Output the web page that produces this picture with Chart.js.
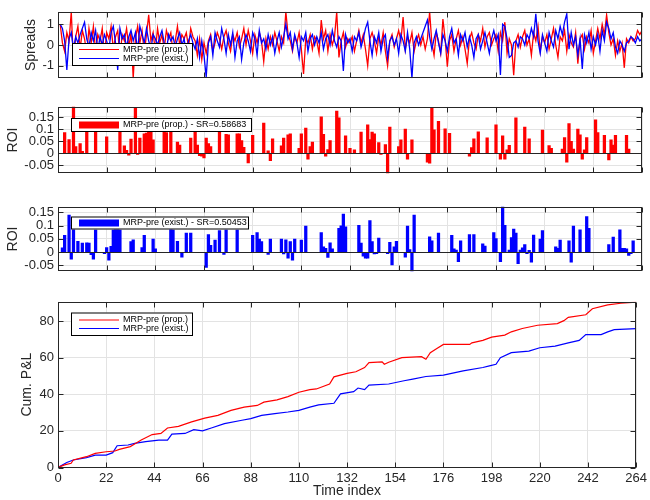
<!DOCTYPE html>
<html>
<head>
<meta charset="utf-8">
<script src="https://cdn.jsdelivr.net/npm/chart.js@4.4.0/dist/chart.umd.min.js"></script>
<style>
  body { margin: 0; background: #fff; width: 650px; height: 500px; position: relative; overflow: hidden; }
  canvas { position: absolute; left: 0; }
</style>
</head>
<body>
<canvas id="spreads" width="650" height="90" style="top:0px"></canvas>
<canvas id="roiProp" width="650" height="90" style="top:95px"></canvas>
<canvas id="roiExist" width="650" height="88" style="top:195px"></canvas>
<canvas id="pnl" width="650" height="210" style="top:290px"></canvas>
<script>
// ---- data ----
const xTicks = [0, 22, 44, 66, 88, 110, 132, 154, 176, 198, 220, 242, 264];
const spreadTicks = [-1, 0, 1];
const roiTicks = [-0.05, 0, 0.05, 0.1, 0.15];
const pnlTicks = [0, 20, 40, 60, 80];

// spreads, time index 1..264
const spreadProp = [
  1.0, 0.1, -0.3, 0.6, 0.2, 1.6, -0.9, 0.4, 0.9, -0.2, 0.7, 0.3, -0.4, 0.8, 0.1, 0.9, -0.3, 0.5, 0.2, 0.8, -0.5, 0.6,
  0.3, 0.9, -0.2, 0.4, 0.7, -0.6, 0.5, 0.2, 0.8, -0.1, 0.6, -1.6, 0.3, 0.9, 0.1, 0.7, -0.4, 0.5, 1.45, 0.2, 0.6, -0.3,
  0.8, 0.1, 0.5, -0.2, 0.7, 0.3, 0.6, -0.4, 0.2, 0.9, 0.0, 0.5, 0.3, 0.6, -0.1, 0.8, 0.4, 0.2, -0.5, 0.3, -0.7, 0.1,
  -0.4, 0.2, 0.5, -0.3, 0.1, 0.6, 0.3, -0.2, 0.4, 0.7, 0.1, -0.3, 0.5, 0.2, 0.6, -0.1, 0.3, 0.8, 0.0, 0.7, 0.2, -0.4,
  0.5, 0.1, 0.6, 0.2, -0.8, 0.3, -0.2, 0.4, 0.0, 0.6, 0.2, -0.3, 0.4, 0.1, 1.6, 0.5, 0.2, -0.3, 0.4, 0.1, 0.6, -0.2,
  -1.4, 0.3, 0.1, 0.5, -0.2, 0.4, 0.2, -0.4, 1.2, 0.3, 0.7, -0.3, 0.5, 0.0, 0.4, 1.6, -0.6, 0.2, 0.6, -0.1, 0.3, 0.1,
  0.4, -0.3, 0.2, 0.7, 0.1, 0.5, -0.2, -1.0, 0.3, 0.6, 0.2, -0.4, 0.4, 0.0, 0.6, -0.3, -1.0, 0.2, 0.5, -0.1, 0.3, 0.7,
  0.2, 1.35, -0.2, 0.4, 0.1, 0.6, -0.3, 0.2, 0.5, 0.0, 0.4, -0.2, 0.3, 1.6, 0.1, -0.5, 0.6, 0.2, -0.4, 1.25, 0.3, -1.05,
  0.2, 0.5, -0.3, 0.3, 0.7, 0.0, 0.4, -0.2, -0.9, 0.3, 0.6, 0.1, -0.2, 0.5, 0.2, 0.8, -0.1, 0.4, 0.6, 0.0, 0.3, 0.5,
  -0.3, 0.6, 0.2, 1.1, -0.4, 0.3, 0.0, -1.45, 0.2, 0.5, -0.1, 0.4, 0.7, 0.0, 0.3, -0.5, 0.6, 0.2, 0.9, -0.3, 0.4, 0.1,
  0.5, -0.2, 0.3, 0.8, 0.0, -0.6, 0.4, 0.2, 0.7, -0.3, 0.5, 0.1, -0.1, 0.6, -0.9, 0.3, 0.5, -0.2, 0.4, 0.1, 0.7, -0.4,
  0.2, 0.8, 0.3, 1.0, 0.5, 1.45, 0.6, 0.0, 0.3, -0.5, 0.2, -0.3, 0.1, -1.1, 0.3, 0.1, 0.4, 0.2, 0.3, 0.7, 0.5, 0.7
];
const spreadExist = [
  1.0, 0.8, 0.2, -1.2, 0.3, 0.6, -0.2, 0.4, 0.1, 0.5, 0.8, 1.1, 0.3, -0.1, 0.6, 0.2, 0.7, -0.3, 0.4, 0.0, 0.5, 0.2,
  -0.2, 0.6, 0.9, 0.1, -1.2, 0.8, 0.3, 0.5, -0.1, 0.4, 0.7, 0.2, 0.6, -0.3, 0.9, 0.5, 0.1, 0.8, 0.2, -0.2, 0.5, 0.3,
  0.0, 0.4, 0.7, 0.1, -0.3, 0.5, 0.2, 0.4, -0.1, 0.3, 0.6, 0.0, 0.3, -0.4, 0.2, 0.5, 0.1, -0.2, 0.3, -0.6, 0.2, -0.5,
  -1.55, 0.1, 0.4, -0.5, 0.6, 0.2, -0.1, 0.8, 0.3, -0.4, 0.5, 0.0, 0.6, -0.6, 0.2, 0.4, -0.7, 0.1, 0.5, 0.2, -0.3, 0.6,
  0.3, -0.5, 0.7, 0.1, 0.3, -0.2, 0.5, 0.0, 0.4, -0.4, 0.2, 0.6, -0.1, 0.4, 1.0, 0.3, 0.6, -0.2, 0.5, 0.1, -0.6, 0.4,
  0.2, 0.6, -0.3, 0.3, 0.5, 0.0, 0.4, 0.1, 0.6, -0.2, 0.3, 0.5, 0.0, 0.7, 0.2, -0.1, 0.4, 0.2, -1.25, 0.5, 0.1, 0.3,
  -0.3, 0.4, 0.2, 0.6, -0.1, 0.3, 0.8, 1.1, 0.2, -0.5, 0.4, 0.1, 0.6, -0.3, 0.3, 0.5, -0.6, 0.2, 0.4, 0.0, 0.3, -0.4,
  0.5, 0.2, -0.3, 0.6, -0.2, -1.6, 0.1, 0.4, 0.0, 0.3, 0.6, 0.9, 1.2, 0.4, -0.2, 0.3, 0.7, 0.1, -0.4, 0.5, 0.2, -0.3,
  0.4, 0.8, 0.1, 0.3, -0.5, 0.5, 0.2, 0.6, -0.1, 0.4, 0.0, -0.6, 0.3, 0.5, -0.2, 0.2, 0.6, 0.1, -0.4, 0.3, 0.7, 0.2,
  0.5, -1.45, 1.0, 0.9, 0.3, -0.6, -0.5, 0.1, 0.2, -0.1, 0.4, 0.3, 0.0, 0.5, 0.3, 0.8, 0.4, 1.5, 0.2, -0.4, 0.5, 0.1,
  -0.3, 0.6, 0.2, -0.1, 0.7, 0.3, 0.9, 0.5, 1.1, 1.5, -0.2, 0.6, 0.0, 0.4, -0.5, 0.3, -1.15, 0.5, 0.1, 0.6, -0.2, 0.4,
  0.0, 0.5, -0.3, 0.7, 0.2, 1.1, 0.8, 0.3, 0.6, -0.1, -0.4, 0.2, 0.0, -0.3, 0.1, 0.2, 0.4, 0.3, 0.1, 0.4, 0.2, 0.3
];

// ROI bars: time index and value (indices without a bar are zero)
const roiPropT = [3, 5, 7, 8, 10, 11, 13, 17, 22, 28, 30, 31, 32, 33, 35, 36, 37, 39, 40, 41, 42, 43, 48, 49, 51, 54, 55,
  60, 62, 63, 64, 65, 66, 67, 68, 69, 73, 76, 77, 81, 82, 83, 84, 86, 88, 93, 95, 96, 97, 101, 102, 104, 105, 109, 110,
  112, 113, 114, 115, 119, 120, 121, 122, 123, 126, 127, 130, 132, 134, 137, 140, 141, 142, 143, 145, 146, 148, 149, 150,
  154, 155, 157, 158, 160, 167, 168, 169, 170, 172, 175, 177, 186, 187, 188, 190, 194, 198, 200, 201, 202, 203, 204, 207,
  211, 213, 219, 222, 223, 228, 229, 230, 231, 232, 233, 235, 236, 237, 238, 239, 243, 244, 247, 249, 250, 251, 252, 257, 258];
const roiPropV = [0.085, 0.056, 0.2, 0.027, 0.04, 0.008, 0.087, 0.09, 0.068, 0.09, 0.03, 0.012, -0.008, 0.058, 0.187, -0.005,
  0.062, 0.08, 0.083, 0.104, 0.09, 0.055, 0.09, 0.085, 0.087, 0.046, 0.033,
  0.062, 0.104, 0.033, -0.01, -0.012, -0.02, 0.062, 0.04, 0.027, 0.09, 0.078, 0.076, 0.08, 0.08, 0.052, 0.024, -0.04, 0.074,
  0.125, 0.01, -0.031, 0.059, 0.03, 0.062, 0.076, 0.08, 0.02, 0.08,
  0.104, -0.025, 0.027, 0.046, 0.15, 0.078, -0.012, 0.015, 0.052, 0.174, 0.146, 0.072, 0.02, 0.014, 0.087, 0.117, 0.056,
  0.087, 0.08, 0.044, -0.005, 0.036, -0.085, 0.108,
  0.027, 0.055, 0.1, -0.025, 0.055, -0.037, -0.041, 0.187, 0.097, 0.132, 0.101, 0.082, -0.012, 0.023, 0.059, 0.088, 0.064,
  0.117, -0.025, 0.072, -0.025, 0.014, 0.032, 0.146,
  0.108, 0.059, 0.096, 0.031, 0.02, 0.017, 0.065, -0.037, 0.123, 0.049, 0.017, 0.1, 0.076, -0.025, 0.014, 0.065, 0.138,
  0.085, 0.074, -0.028, 0.055, 0.033, 0.074, 0.074, 0.017];

const roiExistT = [2, 3, 5, 6, 7, 9, 11, 13, 14, 15, 16, 17, 21, 22, 23, 24, 25, 26, 27, 28, 33, 34, 38, 39, 43, 44, 51, 52,
  54, 56, 58, 60, 67, 68, 69, 71, 73, 75, 76, 81, 88, 90, 91, 92, 95, 96, 101, 102, 103, 104, 105, 106, 107, 110, 112,
  119, 120, 121, 122, 123, 124, 127, 128, 129, 130, 136, 137, 138, 139, 140, 141, 142, 143, 144, 145, 149, 150, 151, 152,
  153, 157, 158, 159, 160, 161, 168, 169, 172, 178, 179, 180, 181, 182, 186, 188, 192, 193, 197, 198, 200, 201, 202, 204,
  205, 206, 207, 208, 209, 210, 211, 212, 213, 214, 215, 218, 219, 225, 226, 227, 231, 232, 233, 236, 239, 240, 249, 251,
  254, 255, 256, 257, 258, 259, 260];
const roiExistV = [0.016, 0.063, 0.14, -0.027, 0.09, 0.041, 0.034, 0.035, 0.034, -0.01, -0.027, 0.084, -0.006, 0.017, -0.03,
  0.022, 0.084, 0.095, 0.128, 0.084, 0.04, 0.046, 0.017, 0.063, 0.049, 0.012, 0.124, 0.084,
  0.041, -0.019, 0.072, 0.072, -0.058, 0.066, 0.026, 0.045, 0.081, -0.009, 0.084, 0.084, 0.063, 0.074, 0.049, 0.04, -0.009,
  0.049, 0.049, -0.007, 0.046, -0.023, 0.04, -0.03, 0.049, 0.045, 0.098,
  0.074, 0.02, 0.014, -0.02, 0.035, 0.012, 0.09, 0.099, 0.144, 0.095, 0.101, 0.034, -0.015, -0.023, -0.023, 0.119, 0.04,
  -0.007, -0.006, 0.053, -0.006, 0.037, -0.048, 0.02,
  0.041, -0.019, 0.098, 0.01, -0.085, 0.14, 0.058, 0.043, 0.072, 0.063, 0.012, 0.008, -0.036, 0.043, 0.066, 0.066, 0.031,
  0.023, 0.074, 0.051, -0.036, 0.175, 0.101, 0.008,
  0.055, 0.087, 0.072, -0.044, 0.008, 0.016, 0.028, -0.006, 0.007, -0.038, 0.064, 0.049, 0.081, 0.02, 0.014, 0.045, 0.043,
  -0.038, 0.098, 0.084, 0.134, 0.09, 0.028, 0.057,
  0.084, 0.014, 0.014, 0.012, -0.012, -0.006, 0.043];

// cumulative P&L, sampled at the corners of the curves
const pnlPropT = [0, 3, 6, 7, 13, 17, 22, 26, 28, 33, 35, 38, 43, 47, 50, 55, 61, 67, 73, 79, 85, 91, 94, 100, 105, 110, 115,
  118, 124, 126, 132, 136, 140, 142, 148, 149, 151, 157, 166, 168, 170, 173, 176, 188, 189, 194, 198, 204, 207, 212, 219,
  228, 231, 233, 241, 244, 251, 257, 264];
const pnlPropV = [0, 1.4, 2.3, 4.1, 5.9, 7.7, 8.6, 9, 9.9, 11.4, 12.8, 15, 18, 18.6, 21.6, 22.5, 24.9, 27, 28.5, 31.2, 33,
  33.9, 35.7, 36.9, 38.7, 41.1, 42.5, 42.9, 45.6, 49.5, 51.4, 52.3, 54.6, 57.3, 57.7, 56.4, 57.5, 60, 60.5, 59.1, 62.7, 65,
  67.2, 67.2, 68.1, 69.4, 71.2, 72.3, 74.1, 75.9, 77.7, 78.6, 80.2, 82, 83.4, 86.7, 88.8, 89.7, 90.3];
const pnlExistT = [0, 4, 7, 13, 17, 22, 25, 27, 32, 35, 40, 46, 50, 52, 58, 62, 66, 70, 76, 84, 88, 93, 99, 105, 110, 115,
  119, 126, 129, 135, 137, 140, 142, 151, 158, 162, 168, 176, 185, 194, 197, 200, 202, 207, 215, 220, 227, 233, 238, 241,
  248, 251, 254, 264];
const pnlExistV = [0, 2.7, 4.1, 5.4, 6.8, 6.8, 8.1, 11.9, 12.3, 13.2, 14.1, 15, 15, 18.2, 18.6, 20.7, 20, 21.6, 24, 25.8,
  26.7, 28.5, 29.4, 30.3, 31.2, 33, 34.2, 35.1, 40.2, 41.4, 43.4, 42.5, 45, 45.6, 47.4, 48.3, 49.7, 50.5, 52.8, 54.6, 55.5,
  56.4, 60, 62.7, 63.6, 65.4, 66.3, 68.1, 69.4, 72.6, 72.6, 74.1, 75.3, 75.9];

const RED = '#ff0000';
const BLUE = '#0000ff';
const INK = '#262626';
const GRID = '#e3e3e3';
const FONT = '"Liberation Sans", Arial, Helvetica, sans-serif';

function getById(id) {
    return document.getElementById(id);
}

function toPoints(xs, ys) {
    return xs.map((x, i) => ({ x: x, y: ys[i] }));
}

function indexPoints(ys) {
    return ys.map((y, i) => ({ x: i + 1, y: y }));
}

// matlab-like box, inward ticks on all sides, bar baseline and legend
const axesBox = {
    id: 'axesBox',
    afterDatasetsDraw(chart, args, opts) {
        const { ctx, chartArea: a } = chart;
        const xs = chart.scales.x;
        const ys = chart.scales.y;
        ctx.save();
        ctx.strokeStyle = INK;
        ctx.lineWidth = 1;
        if (opts.baseline) {
            const y0 = Math.round(ys.getPixelForValue(0)) + 0.5;
            ctx.beginPath();
            ctx.moveTo(a.left, y0);
            ctx.lineTo(a.right, y0);
            ctx.stroke();
        }
        const L = Math.round(a.left) + 0.5, R = Math.round(a.right) - 0.5;
        const T = Math.round(a.top) + 0.5, B = Math.round(a.bottom) - 0.5;
        ctx.strokeRect(L, T, R - L, B - T);
        const tl = 5;
        ctx.beginPath();
        xs.ticks.forEach(t => {
            const p = Math.round(xs.getPixelForValue(t.value)) + 0.5;
            ctx.moveTo(p, T); ctx.lineTo(p, T + tl);
            ctx.moveTo(p, B); ctx.lineTo(p, B - tl);
        });
        ys.ticks.forEach(t => {
            const p = Math.round(ys.getPixelForValue(t.value)) + 0.5;
            ctx.moveTo(L, p); ctx.lineTo(L + tl, p);
            ctx.moveTo(R, p); ctx.lineTo(R - tl, p);
        });
        ctx.stroke();

        const lg = opts.legend;
        if (lg) {
            const [x1, y1, x2, y2] = lg.box;
            ctx.fillStyle = '#fff';
            ctx.fillRect(x1, y1, x2 - x1, y2 - y1);
            ctx.strokeStyle = '#000';
            ctx.strokeRect(x1 + 0.5, y1 + 0.5, x2 - x1 - 1, y2 - y1 - 1);
            ctx.font = '9px ' + FONT;
            ctx.textBaseline = 'middle';
            ctx.textAlign = 'left';
            lg.rows.forEach(r => {
                const ds = chart.data.datasets[r.dataset];
                if (lg.kind === 'bar') {
                    ctx.fillStyle = ds.backgroundColor;
                    ctx.fillRect(79, r.y - 3.5, 40, 7);
                } else {
                    ctx.strokeStyle = ds.borderColor;
                    ctx.lineWidth = 1;
                    ctx.beginPath();
                    ctx.moveTo(79, r.y);
                    ctx.lineTo(119, r.y);
                    ctx.stroke();
                }
                ctx.fillStyle = '#000';
                ctx.fillText(ds.label, 123, r.y);
            });
        }
        ctx.restore();
    }
};

function makePanel(id, cfg) {
    const tickFont = { family: FONT, size: 13 };
    const titleFont = { family: FONT, size: 14 };
    return new Chart(getById(id).getContext('2d'), {
        type: cfg.type,
        data: { datasets: cfg.datasets },
        options: {
            responsive: false,
            animation: false,
            devicePixelRatio: 1,
            layout: { padding: { left: 0, right: 8, top: cfg.padTop, bottom: cfg.padBottom } },
            plugins: {
                legend: { display: false },
                tooltip: { enabled: false },
                axesBox: { baseline: cfg.baseline, legend: cfg.legend }
            },
            scales: {
                x: {
                    type: 'linear', min: 0, max: 264, offset: false,
                    afterBuildTicks: s => { s.ticks = xTicks.map(v => ({ value: v })); },
                    afterFit: s => { s.height = cfg.xHeight; },
                    grid: { color: GRID, drawTicks: false, offset: false },
                    border: { display: false },
                    ticks: { display: cfg.xLabels, padding: 3, color: INK, font: tickFont,
                             maxRotation: 0, autoSkip: false, callback: v => String(v) },
                    title: { display: cfg.xLabels, text: 'Time index', color: INK, font: titleFont,
                             padding: { top: 0, bottom: 0 } }
                },
                y: {
                    min: cfg.yMin, max: cfg.yMax,
                    afterBuildTicks: s => { s.ticks = cfg.yTicks.map(v => ({ value: v })); },
                    afterFit: s => { s.width = 58; },
                    grid: { color: GRID, drawTicks: false },
                    border: { display: false },
                    ticks: { padding: 4, color: INK, font: tickFont, autoSkip: false, callback: v => String(v) },
                    title: { display: true, text: cfg.yTitle, color: INK, font: titleFont,
                             padding: { top: cfg.yTitlePad, bottom: 0 } }
                }
            }
        },
        plugins: [axesBox]
    });
}

makePanel('spreads', {
    type: 'line',
    datasets: [
        { label: 'MRP-pre (prop.)', data: indexPoints(spreadProp), borderColor: RED, borderWidth: 1.3,
          pointRadius: 0, tension: 0, order: 1 },
        { label: 'MRP-pre (exist.)', data: indexPoints(spreadExist), borderColor: BLUE, borderWidth: 1.3,
          pointRadius: 0, tension: 0, order: 0 }
    ],
    padTop: 7, padBottom: 11, xHeight: 0, xLabels: false,
    yMin: -1.6, yMax: 1.6, yTicks: spreadTicks, yTitle: 'Spreads', yTitlePad: 22.5,
    legend: { kind: 'line', box: [72, 43, 193, 66], rows: [{ dataset: 0, y: 49.5 }, { dataset: 1, y: 58.5 }] }
});

makePanel('roiProp', {
    type: 'bar',
    datasets: [
        { label: 'MRP-pre (prop.) - SR=0.58683', data: toPoints(roiPropT, roiPropV), backgroundColor: RED,
          borderWidth: 0, barThickness: 2.6 }
    ],
    padTop: 10, padBottom: 8, xHeight: 0, xLabels: false, baseline: true,
    yMin: -0.083, yMax: 0.192, yTicks: roiTicks, yTitle: 'ROI', yTitlePad: 4.5,
    legend: { kind: 'bar', box: [71, 23, 252, 37], rows: [{ dataset: 0, y: 30 }] }
});

makePanel('roiExist', {
    type: 'bar',
    datasets: [
        { label: 'MRP-pre (exist.) - SR=0.50453', data: toPoints(roiExistT, roiExistV), backgroundColor: BLUE,
          borderWidth: 0, barThickness: 2.6 }
    ],
    padTop: 8, padBottom: 10, xHeight: 0, xLabels: false, baseline: true,
    yMin: -0.072, yMax: 0.171, yTicks: roiTicks, yTitle: 'ROI', yTitlePad: 4.5,
    legend: { kind: 'bar', box: [71, 21.5, 249, 34.5], rows: [{ dataset: 0, y: 28 }] }
});

makePanel('pnl', {
    type: 'line',
    datasets: [
        { label: 'MRP-pre (prop.)', data: toPoints(pnlPropT, pnlPropV), borderColor: RED, borderWidth: 1.2,
          pointRadius: 0, tension: 0 },
        { label: 'MRP-pre (exist.)', data: toPoints(pnlExistT, pnlExistV), borderColor: BLUE, borderWidth: 1.2,
          pointRadius: 0, tension: 0 }
    ],
    padTop: 10.5, padBottom: 0, xHeight: 32.5, xLabels: true,
    yMin: 0, yMax: 90.5, yTicks: pnlTicks, yTitle: 'Cum. P&L', yTitlePad: 19,
    legend: { kind: 'line', box: [71, 22.5, 193, 46], rows: [{ dataset: 0, y: 30 }, { dataset: 1, y: 38.5 }] }
});
</script>
</body>
</html>
